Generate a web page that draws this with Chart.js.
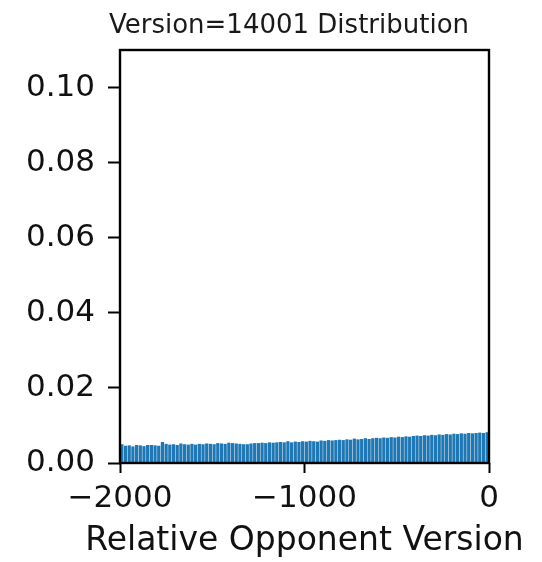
<!DOCTYPE html>
<html>
<head>
<meta charset="utf-8">
<script src="https://cdn.jsdelivr.net/npm/chart.js@4.4.1/dist/chart.umd.min.js"></script>
<style>
  html, body { margin: 0; padding: 0; background: #fff; }
  #wrap { width: 542px; height: 562px; }
</style>
</head>
<body>
<div id="wrap"><canvas id="histChart" width="542" height="562"></canvas></div>
<script>
// histogram: 100 bins of width 20 over [-2000, 0]
const titleText = 'Version=14001 Distribution';
const xTitle = 'Relative Opponent Version';
const binStart = -2000;
const binWidth = 20;
const density = [
  0.0050, 0.0046, 0.0047, 0.0044, 0.0048, 0.0047, 0.0045, 0.0048, 0.0048, 0.0047,
  0.0046, 0.0056, 0.0051, 0.0049, 0.0050, 0.0048, 0.0052, 0.0050, 0.0049, 0.0051,
  0.0049, 0.0051, 0.0050, 0.0052, 0.0051, 0.0050, 0.0053, 0.0052, 0.0051, 0.0054,
  0.0053, 0.0052, 0.0051, 0.0050, 0.0050, 0.0052, 0.0053, 0.0053, 0.0054, 0.0053,
  0.0055, 0.0054, 0.0055, 0.0056, 0.0055, 0.0058, 0.0055, 0.0057, 0.0056, 0.0058,
  0.0057, 0.0059, 0.0058, 0.0057, 0.0060, 0.0059, 0.0061, 0.0060, 0.0061, 0.0062,
  0.0061, 0.0063, 0.0062, 0.0065, 0.0063, 0.0064, 0.0066, 0.0064, 0.0066, 0.0067,
  0.0066, 0.0068, 0.0067, 0.0069, 0.0068, 0.0070, 0.0069, 0.0071, 0.0070, 0.0072,
  0.0073, 0.0072, 0.0074, 0.0073, 0.0075, 0.0074, 0.0076, 0.0075, 0.0077, 0.0076,
  0.0078, 0.0077, 0.0079, 0.0078, 0.0080, 0.0079, 0.0080, 0.0081, 0.0080, 0.0082
];
const xTicks = [-2000, -1000, 0];
const yTicks = [0, 0.02, 0.04, 0.06, 0.08, 0.10];

const FONT = 'DejaVu Sans';

// bin centres from the edges
const points = density.map((v, i) => ({ x: binStart + binWidth * i + binWidth / 2, y: v }));

// frame around the axes, figure title and x label (drawn by hand so they are not squeezed)
const framePlugin = {
  id: 'frame',
  afterDatasetsDraw(chart) {
    const { ctx, chartArea: a } = chart;
    ctx.save();
    ctx.strokeStyle = '#000';
    ctx.lineWidth = 2.4;
    ctx.strokeRect(a.left, a.top, a.right - a.left, a.bottom - a.top);
    ctx.restore();
  },
  afterDraw(chart) {
    const { ctx, chartArea: a } = chart;
    ctx.save();
    ctx.fillStyle = '#1a1a1a';
    ctx.textAlign = 'center';
    ctx.textBaseline = 'alphabetic';
    ctx.font = '26px "' + FONT + '"';
    ctx.fillText(titleText, 289, 33);
    ctx.fillStyle = '#111';
    ctx.font = '33px "' + FONT + '"';
    ctx.fillText(xTitle, (a.left + a.right) / 2, 550);
    ctx.restore();
  }
};

new Chart(document.getElementById('histChart'), {
  type: 'bar',
  data: {
    datasets: [{
      data: points,
      backgroundColor: '#1f77b4',
      borderWidth: 0,
      barPercentage: 0.88,
      categoryPercentage: 1.0
    }]
  },
  options: {
    responsive: false,
    devicePixelRatio: 1,
    animation: false,
    layout: { padding: { top: 50, right: 53, left: 0, bottom: 0 } },
    plugins: {
      legend: { display: false },
      tooltip: { enabled: false },
      title: { display: false }
    },
    scales: {
      x: {
        type: 'linear',
        min: -2000, max: 0,
        offset: false,
        afterBuildTicks: s => { s.ticks = xTicks.map(v => ({ value: v })); },
        afterFit: s => { s.height = 99; },
        grid: { offset: false, drawOnChartArea: false, drawTicks: true, tickLength: 10, tickColor: '#000', tickWidth: 2 },
        border: { display: false },
        ticks: {
          autoSkip: false, maxRotation: 0, padding: 7,
          color: '#111',
          font: { family: FONT, size: 31 },
          callback: v => String(v).replace('-', '\u2212')
        }
      },
      y: {
        min: 0, max: 0.11,
        afterBuildTicks: s => { s.ticks = yTicks.map(v => ({ value: v })); },
        afterFit: s => { s.width = 120; },
        grid: { offset: false, drawOnChartArea: false, drawTicks: true, tickLength: 12, tickColor: '#000', tickWidth: 2 },
        border: { display: false },
        ticks: {
          padding: 13,
          color: '#111',
          font: { family: FONT, size: 31 },
          callback: v => Number(v).toFixed(2)
        }
      }
    }
  },
  plugins: [framePlugin]
});
</script>
</body>
</html>
